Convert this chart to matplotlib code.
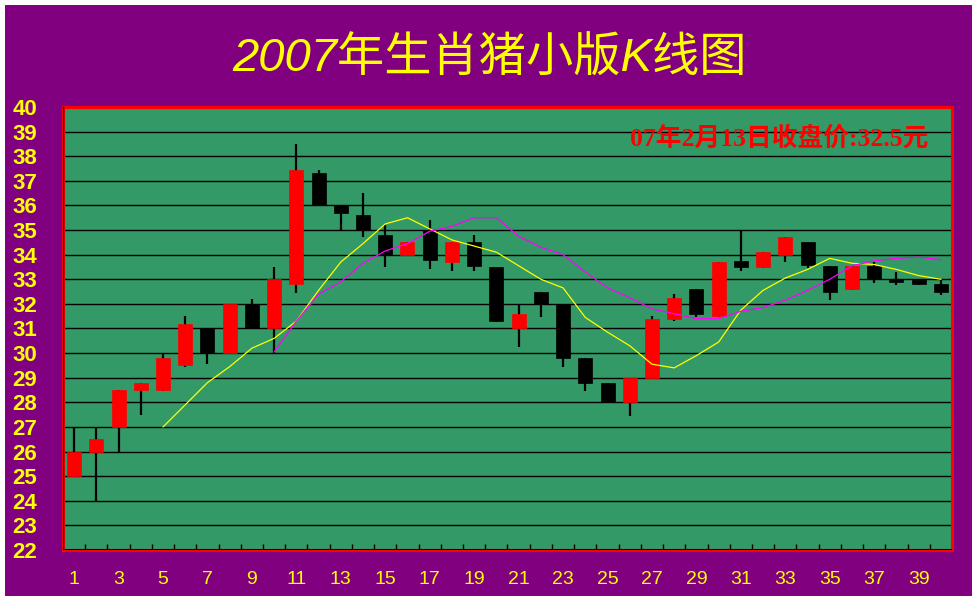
import numpy as np
import matplotlib
matplotlib.use("Agg")
import matplotlib.pyplot as plt
from matplotlib.patches import Rectangle

# ---------------- data ----------------
days = list(range(1, 41))
opens = [25, 26, 27, 28.5, 28.5, 29.5, 31, 30, 32, 31,
         32.8, 37.3, 36, 35.6, 34.8, 34, 35, 33.7, 34.5, 33.5,
         31, 32.5, 32, 29.8, 28.8, 28, 29, 31.4, 32.6, 31.5,
         33.75, 33.5, 34, 34.5, 33.55, 32.6, 33.55, 33, 33, 32.8]
closes = [26, 26.5, 28.5, 28.8, 29.8, 31.2, 30, 32, 31, 33,
          37.45, 36, 35.7, 35, 34, 34.5, 33.8, 34.5, 33.55, 31.3,
          31.6, 32, 29.8, 28.8, 28, 29, 31.4, 32.25, 31.6, 33.7,
          33.5, 34.1, 34.7, 33.6, 32.5, 33.55, 33, 32.9, 32.8, 32.5]
highs = [27, 27, 28.5, 28.8, 30, 31.5, 31, 32, 32.2, 33.5,
         38.5, 37.45, 36, 36.5, 35.2, 34.5, 35.4, 34.5, 34.8, 33.5,
         32, 32.5, 32, 29.8, 28.8, 29, 31.5, 32.4, 32.6, 33.7,
         35, 34.1, 34.7, 34.5, 33.55, 33.55, 33.7, 33.3, 33, 33]
lows = [25, 24, 26, 27.5, 28.45, 29.45, 29.55, 30, 31, 30,
        32.45, 36, 35, 34.7, 33.5, 34, 33.4, 33.35, 33.35, 31.25,
        30.25, 31.45, 29.45, 28.45, 28, 27.45, 29, 31.3, 31.45, 31.45,
        33.35, 33.45, 33.7, 33.45, 32.15, 32.55, 32.85, 32.75, 32.75, 32.35]
nan = float("nan")
ma5 = [nan, nan, nan, nan,
       27.0, 27.9, 28.8, 29.45, 30.2, 30.6, 31.3, 32.55, 33.7, 34.45,
       35.25, 35.5, 35.05, 34.6, 34.35, 34.1, 33.55, 33.0, 32.65, 31.45,
       30.85, 30.3, 29.55, 29.4, 29.9, 30.45, 31.75, 32.55, 33.05, 33.4,
       33.85, 33.65, 33.6, 33.4, 33.15, 33.0]
ma10 = [nan] * 9 + [30.05, 31.3, 32.4, 32.9, 33.65, 34.15, 34.45, 34.95, 35.15, 35.5,
                    35.5, 34.75, 34.3, 34.0, 33.3, 32.65, 32.25, 31.8, 31.6, 31.4,
                    31.4, 31.7, 31.85, 32.15, 32.55, 33.0, 33.55, 33.75, 33.85, 33.9,
                    33.8]
y_ticks = list(range(22, 41))
x_tick_labels = [str(d) for d in range(1, 40, 2)]
title = "2007年生肖猪小版K线图"
note = "07年2月13日收盘价:32.5元"

# ---------------- style ----------------
GREEN = "#339966"
PURPLE = "#800080"
RED = "#FF0000"
YELLOW = "#FFFF00"
MAGENTA = "#FF00FF"

W, H = 977, 600
fig = plt.figure(figsize=(W / 100, H / 100), dpi=100, facecolor="white")

# purple frame background
fig.patches.append(Rectangle((5 / W, 4 / H), 967 / W, 591 / H, transform=fig.transFigure,
                             facecolor=PURPLE, edgecolor="none", zorder=-10))

ax = fig.add_axes([63 / W, 1 - 550 / H, 889 / W, 443 / H])
ax.set_facecolor(GREEN)
ax.set_xlim(0.5, 40.5)
ax.set_ylim(22, 40)

# grid
for v in y_ticks:
    ax.axhline(v, color="black", lw=1.0, zorder=1)

# candles
body_w = 0.63
for d, o, c, hi, lo in zip(days, opens, closes, highs, lows):
    col = RED if c > o else "black"
    ax.vlines(d, lo, hi, color="black", lw=1.6, zorder=2)
    bottom = min(o, c)
    height = max(abs(c - o), 0.06)
    ax.add_patch(Rectangle((d - body_w / 2, bottom), body_w, height,
                           facecolor=col, edgecolor=col, lw=0.5, zorder=3))

# moving averages
ax.plot(days, ma5, color=YELLOW, lw=0.9, zorder=4)
ax.plot(days, ma10, color=MAGENTA, lw=0.9, zorder=4)

# spines
for s in ax.spines.values():
    s.set_color(RED)
    s.set_linewidth(2.2)
ax.axvline(0.5, color="black", lw=1.0, zorder=5)
ax.axhline(22, color="black", lw=1.2, zorder=5)

# ticks
ax.set_yticks(y_ticks)
ax.set_yticklabels([str(v) for v in y_ticks], color=YELLOW, fontsize=16, fontweight="bold",
                   family=["Liberation Sans", "DejaVu Sans"])
ax.tick_params(axis="y", length=0, pad=18.5)
for lab in ax.get_yticklabels():
    lab.set_y(lab.get_position()[1])
ax.set_xticks(list(range(1, 40, 2)))
ax.set_xticklabels(x_tick_labels, color=YELLOW, fontsize=14,
                   family=["Liberation Sans", "DejaVu Sans"])
ax.tick_params(axis="x", which="major", length=0, pad=15)
ax.set_xticks(np.arange(1.5, 40.5, 1.0), minor=True)
ax.tick_params(axis="x", which="minor", direction="in", length=4, width=1, color="black")

# title
fig.text(490 / W, 1 - 60 / H, title, color=YELLOW, fontsize=34, style="italic",
         ha="center", va="center", family=["Liberation Sans", "Noto Sans CJK SC"])

# annotation
ax.text(779 / W, 1 - 138 / H, note, transform=fig.transFigure, color=RED, fontsize=18.5,
        fontweight="bold", ha="center", va="center",
        family=["Liberation Serif", "Noto Sans CJK SC"], zorder=6)

fig.savefig("out.png", dpi=100, facecolor="white")
